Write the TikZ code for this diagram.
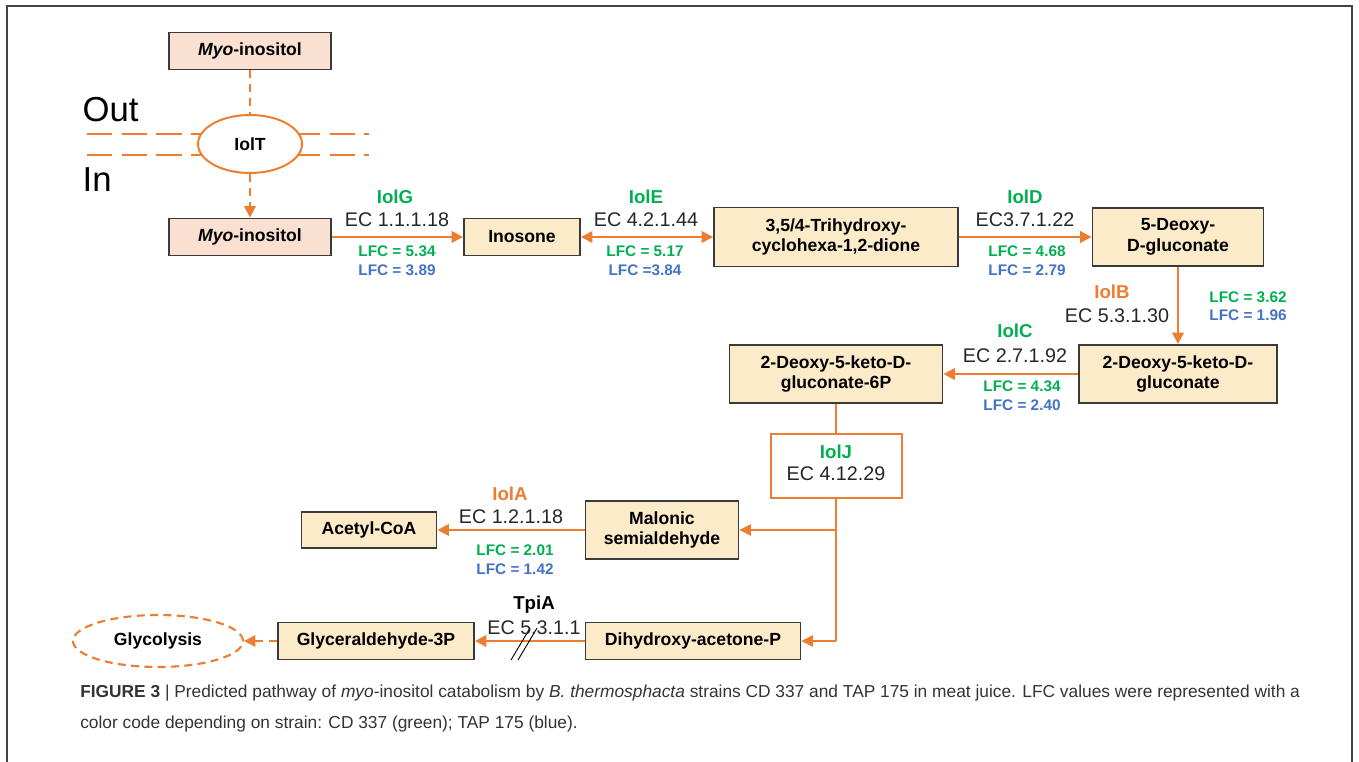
\documentclass[tikz,border=0pt]{standalone}
\usepackage{fontspec}
\setmainfont{Liberation Sans}
\usetikzlibrary{arrows.meta,shapes.geometric}
\definecolor{orng}{HTML}{ED7D31}
\definecolor{grn}{HTML}{00B050}
\definecolor{blu}{HTML}{4472C4}
\definecolor{boxfill}{HTML}{FCEBC8}
\definecolor{myofill}{HTML}{F9E0D0}
\definecolor{boxline}{HTML}{3A3A3A}
\definecolor{capgray}{HTML}{333333}
\definecolor{framegray}{HTML}{444444}
\tikzset{
  sbox/.style={draw=boxline, line width=1.4pt, fill=boxfill, align=center, inner sep=0pt,
    font=\bfseries\fontsize{13.2}{15.5}\selectfont},
  wh/.style n args={2}{minimum width=#1*0.75pt, minimum height=#2*0.75pt},
  tip/.style={-{Triangle[length=8.5pt,width=8.5pt]}},
  flow/.style={draw=orng, line width=1.8pt, tip},
  thinline/.style={draw=orng, line width=1.1pt},
  ec/.style={font=\fontsize{14.8}{17}\selectfont, text=black!85},
  enz/.style={font=\bfseries\fontsize{14}{16}\selectfont},
  lfc/.style={font=\bfseries\fontsize{11.5}{13}\selectfont},
  dashedflow/.style={draw=orng, line width=1.6pt, dash pattern=on 6pt off 4.5pt},
}
\begin{document}
\begin{tikzpicture}[x=0.75pt,y=-0.75pt]
\useasboundingbox (0,0) rectangle (1359,762);
% frame
\draw[framegray, line width=1.3pt] (7,762) -- (7,6) -- (1352,6) -- (1352,762);

% membrane
\draw[orng, line width=2.2pt, dash pattern=on 19pt off 7pt] (87,134) -- (369,134);
\draw[orng, line width=2.2pt, dash pattern=on 19pt off 7pt] (87,155) -- (369,155);
\node[font=\fontsize{26}{29}\selectfont, anchor=base west] (outlbl) at (78,122) {Out};
\node[font=\fontsize{26}{29}\selectfont, anchor=base west] (inlbl) at (78,192) {In};

% nodes
\node[sbox, fill=myofill, wh={162}{37}] (myo1) at (250,51) {\textit{Myo}-inositol};
\node[ellipse, draw=orng, line width=1.5pt, fill=white, inner sep=0pt, wh={104}{58},
  font=\bfseries\fontsize{13.2}{15.5}\selectfont] (iolt) at (250,144) {IolT};
\node[sbox, fill=myofill, wh={162}{37}] (myo2) at (250,237) {\textit{Myo}-inositol};
\node[sbox, wh={116}{37}] (inos) at (522,237) {Inosone};
\node[sbox, wh={244}{59}] (trihy) at (836,237) {3,5/4-Trihydroxy-\\cyclohexa-1,2-dione};
\node[sbox, wh={171}{58}] (deoxy) at (1178,237) {5-Deoxy-\\D-gluconate};
\node[sbox, wh={198}{58}] (dkg) at (1178,374) {2-Deoxy-5-keto-D-\\gluconate};
\node[sbox, wh={213}{58}] (dkg6p) at (836,374) {2-Deoxy-5-keto-D-\\gluconate-6P};
\node[draw=orng, line width=1.5pt, fill=white, wh={131}{64}, inner sep=0pt] (iolj) at (836,466) {};
\node[enz, text=grn] (lj) at (836,452) {IolJ};
\node[ec] (ej) at (836,474) {EC 4.12.29};
\node[sbox, wh={153}{58}] (malonic) at (662,530) {Malonic\\semialdehyde};
\node[sbox, wh={135}{36}] (acetyl) at (369,530) {Acetyl-CoA};
\node[sbox, wh={215}{37}] (dhap) at (693,641) {Dihydroxy-acetone-P};
\node[sbox, wh={196}{37}] (g3p) at (376,641) {Glyceraldehyde-3P};
\node[ellipse, draw=orng, line width=1.6pt, dash pattern=on 6pt off 4pt, inner sep=0pt, wh={170}{52},
  font=\bfseries\fontsize{13.2}{15.5}\selectfont] (glyco) at (158,641) {Glycolysis};

% connectors
\draw[dashedflow] (myo1.south) -- (iolt.north);
\draw[dashedflow, tip] (iolt.south) -- (myo2.north);
\draw[flow] (myo2.east) -- (inos.west);
\draw[flow, {Triangle[length=8.5pt,width=8.5pt]}-{Triangle[length=8.5pt,width=8.5pt]}] (inos.east) -- (trihy.west);
\draw[flow] (trihy.east) -- (deoxy.west);
\draw[flow] (deoxy.south) -- (dkg.north);
\draw[flow] (dkg.west) -- (dkg6p.east);
\draw[thinline] (dkg6p.south) -- (iolj.north);
\coordinate (jb1) at (iolj.south |- malonic.east);
\coordinate (jb2) at (iolj.south |- dhap.east);
\draw[thinline] (iolj.south) -- (jb2);
\draw[thinline, tip] (jb1) -- (malonic.east);
\draw[thinline, tip] (jb2) -- (dhap.east);
\draw[flow] (malonic.west) -- (acetyl.east);
\draw[flow] (dhap.west) -- (g3p.east);
\draw[dashedflow, tip] (g3p.west) -- (glyco.east);
\draw[black, line width=0.7pt] (511,660) -- (530,628);
\draw[black, line width=0.7pt] (518,660) -- (537,628);

% labels
\node[enz, text=grn] (lg) at (395,197) {IolG};
\node[ec] (eg) at (397,220) {EC 1.1.1.18};
\node[lfc, text=grn] (lg1) at (397,251) {LFC = 5.34};
\node[lfc, text=blu] (lg2) at (397,270) {LFC = 3.89};

\node[enz, text=grn] (le) at (646,197) {IolE};
\node[ec] (ee) at (646,220) {EC 4.2.1.44};
\node[lfc, text=grn] (le1) at (645,251) {LFC = 5.17};
\node[lfc, text=blu] (le2) at (645,270) {LFC =3.84};

\node[enz, text=grn] (ld) at (1025,197) {IolD};
\node[ec] (ed) at (1025,220) {EC3.7.1.22};
\node[lfc, text=grn] (ld1) at (1027,251) {LFC = 4.68};
\node[lfc, text=blu] (ld2) at (1027,270) {LFC = 2.79};

\node[enz, text=orng] (lb) at (1112,292) {IolB};
\node[ec] (eb) at (1117,316) {EC 5.3.1.30};
\node[lfc, text=grn] (lb1) at (1248,297) {LFC = 3.62};
\node[lfc, text=blu] (lb2) at (1248,315) {LFC = 1.96};

\node[enz, text=grn] (lc) at (1015,331) {IolC};
\node[ec] (ecc) at (1015,356) {EC 2.7.1.92};
\node[lfc, text=grn] (lc1) at (1022,386) {LFC = 4.34};
\node[lfc, text=blu] (lc2) at (1022,405) {LFC = 2.40};

\node[enz, text=orng] (la) at (510,494) {IolA};
\node[ec] (ea) at (511,517) {EC 1.2.1.18};
\node[lfc, text=grn] (la1) at (515,550) {LFC = 2.01};
\node[lfc, text=blu] (la2) at (515,569) {LFC = 1.42};

\node[enz, text=black] (lt) at (534,605) {TpiA};
\node[ec] (et) at (534,628) {EC 5.3.1.1};

% caption
\node[anchor=base west, text=capgray, font=\fontsize{13}{15}\selectfont, inner sep=0pt] (cap1) at (80,697)
  {\textbf{FIGURE 3} | Predicted pathway of \textit{myo}-inositol catabolism by \textit{B.~thermosphacta} strains CD 337 and TAP 175 in meat juice. LFC values were represented with a};
\node[anchor=base west, text=capgray, font=\fontsize{13}{15}\selectfont, inner sep=0pt] (cap2) at (80,728)
  {color code depending on strain: CD 337 (green); TAP 175 (blue).};
\end{tikzpicture}
\end{document}
